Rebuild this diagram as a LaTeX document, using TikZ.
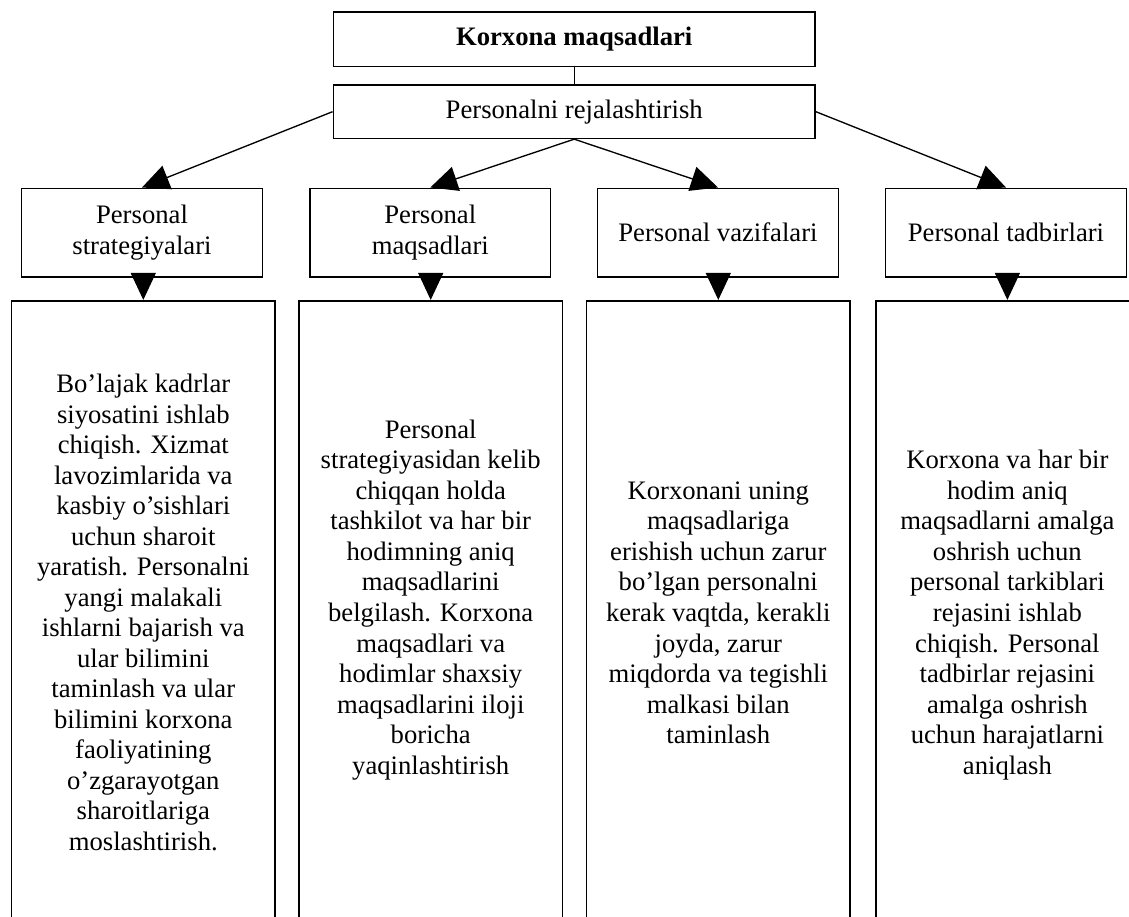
\documentclass[tikz,border=0pt]{standalone}
\usepackage{fontspec}
\setmainfont{Liberation Serif}
\usetikzlibrary{arrows.meta}
\begin{document}
\begin{tikzpicture}[x=0.75pt,y=-0.75pt,
  txt/.style={font=\fontsize{20pt}{22.9pt}\selectfont},
  box/.style={txt,draw,line width=1.2pt,rectangle,inner sep=0pt,align=center,fill=white},
  topbox/.style={box,minimum width=361.3pt},
  midbox/.style={box,minimum width=180.5pt,minimum height=66.3pt},
  textbox/.style={box,minimum width=197.5pt,minimum height=472pt},
  link/.style={line width=1pt,-{Triangle[length=20.25pt,width=18.75pt]}},
  plain/.style={line width=1pt}]
\useasboundingbox (0,0) rectangle (1129,917);
\clip (0,0) rectangle (1129,917);

% top of the hierarchy
\node[topbox,minimum height=40.8pt,font=\fontsize{20pt}{22.9pt}\selectfont\bfseries] (goals) at (574.2,39.5) {Korxona maqsadlari};
\node[topbox,minimum height=40pt] (plan) at (574.2,111.7) {Personalni rejalashtirish};

% second level
\node[midbox] (strat) at (142,232.5) {Personal\\strategiyalari};
\node[midbox] (aims)  at (430.3,232.5) {Personal\\maqsadlari};
\node[midbox] (tasks) at (718,232.5) {Personal vazifalari};
\node[midbox] (acts)  at (1006,232.5) {Personal tadbirlari};

% detailed descriptions
\node[textbox] (dstrat) at (143.3,615.4) {\strut Bo’lajak kadrlar\\siyosatini ishlab\\chiqish. Xizmat\\lavozimlarida va\\kasbiy o’sishlari\\uchun sharoit\\yaratish. Personalni\\yangi malakali\\ishlarni bajarish va\\ular bilimini\\taminlash va ular\\bilimini korxona\\faoliyatining\\o’zgarayotgan\\sharoitlariga\\moslashtirish.\strut};
\node[textbox] (daims) at (430.7,615.4) {\strut Personal\\strategiyasidan kelib\\chiqqan holda\\tashkilot va har bir\\hodimning aniq\\maqsadlarini\\belgilash. Korxona\\maqsadlari va\\hodimlar shaxsiy\\maqsadlarini iloji\\boricha\\yaqinlashtirish\\\strut};
\node[textbox] (dtasks) at (718.3,615.4) {\strut Korxonani uning\\maqsadlariga\\erishish uchun zarur\\bo’lgan personalni\\kerak vaqtda, kerakli\\joyda, zarur\\miqdorda va tegishli\\malkasi bilan\\taminlash\strut};
\node[textbox] (dacts) at (1007.4,615.4) {\strut Korxona va har bir\\hodim aniq\\maqsadlarni amalga\\oshrish uchun\\personal tarkiblari\\rejasini ishlab\\chiqish. Personal\\tadbirlar rejasini\\amalga oshrish\\uchun harajatlarni\\aniqlash\strut};

% connectors
\draw[plain] (goals.south) -- (plan.north);
\draw[link] (plan.west) -- (strat.north);
\draw[link] (plan.south) -- (aims.north);
\draw[link] (plan.south) -- (tasks.north);
\draw[link] (plan.east) -- (acts.north);

\draw[link] (dstrat.north |- strat.south) -- (dstrat.north);
\draw[link] (daims.north |- aims.south) -- (daims.north);
\draw[link] (dtasks.north |- tasks.south) -- (dtasks.north);
\draw[link] (dacts.north |- acts.south) -- (dacts.north);
\end{tikzpicture}
\end{document}
